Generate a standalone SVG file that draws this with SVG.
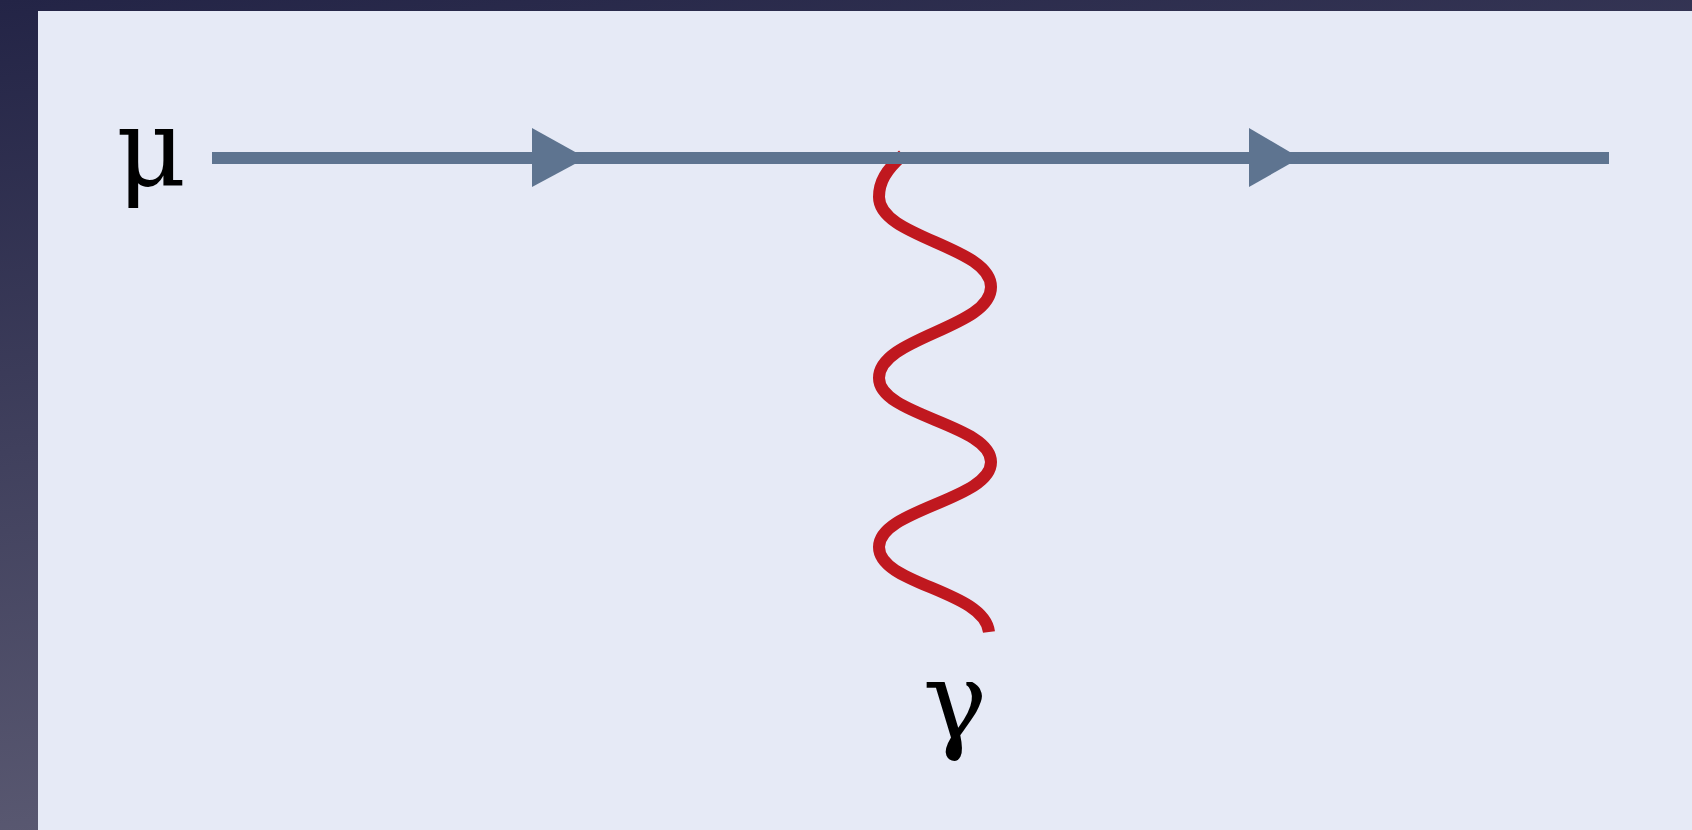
<svg xmlns="http://www.w3.org/2000/svg" width="1692" height="830" viewBox="0 0 1692 830">
  <defs>
    <linearGradient id="bg" x1="0" y1="0" x2="0.3" y2="1">
      <stop offset="0" stop-color="#232446"/>
      <stop offset="1" stop-color="#5d5c74"/>
    </linearGradient>
  </defs>
  <style>
    .fermion { stroke: #5e7490; stroke-width: 12; fill: none; stroke-linecap: butt; }
    .arrow { fill: #5e7490; }
    .photon { stroke: #c0181f; stroke-width: 12; fill: none; stroke-linecap: butt; }
    .label { font-family: "DejaVu Serif", "Liberation Serif", serif; font-size: 108px; fill: #000; }
  </style>
  <rect x="0" y="0" width="1692" height="830" fill="url(#bg)"/>
  <rect x="38" y="11" width="1654" height="819" fill="#e6eaf6"/>

  <g id="connectors">
    <path id="photon" class="photon" d="M 903,155 C 886,170 879,182 879,197 C 879,238 991,246 991,287 C 991,328 879,337 879,378 C 879,416 991,424 991,462 C 991,500 879,509 879,547 C 879,585 984,590 989,632"/>
    <line id="muon" class="fermion" x1="212" y1="158" x2="1609" y2="158"/>
    <polygon class="arrow" points="532,128 586,158 532,187"/>
    <polygon class="arrow" points="1249,128 1300,158 1249,187"/>
  </g>

  <g id="node-mu">
    <text class="label" x="116" y="185">μ</text>
  </g>
  <g id="node-gamma">
    <text class="label" x="955" y="738" text-anchor="middle">γ</text>
  </g>
</svg>
